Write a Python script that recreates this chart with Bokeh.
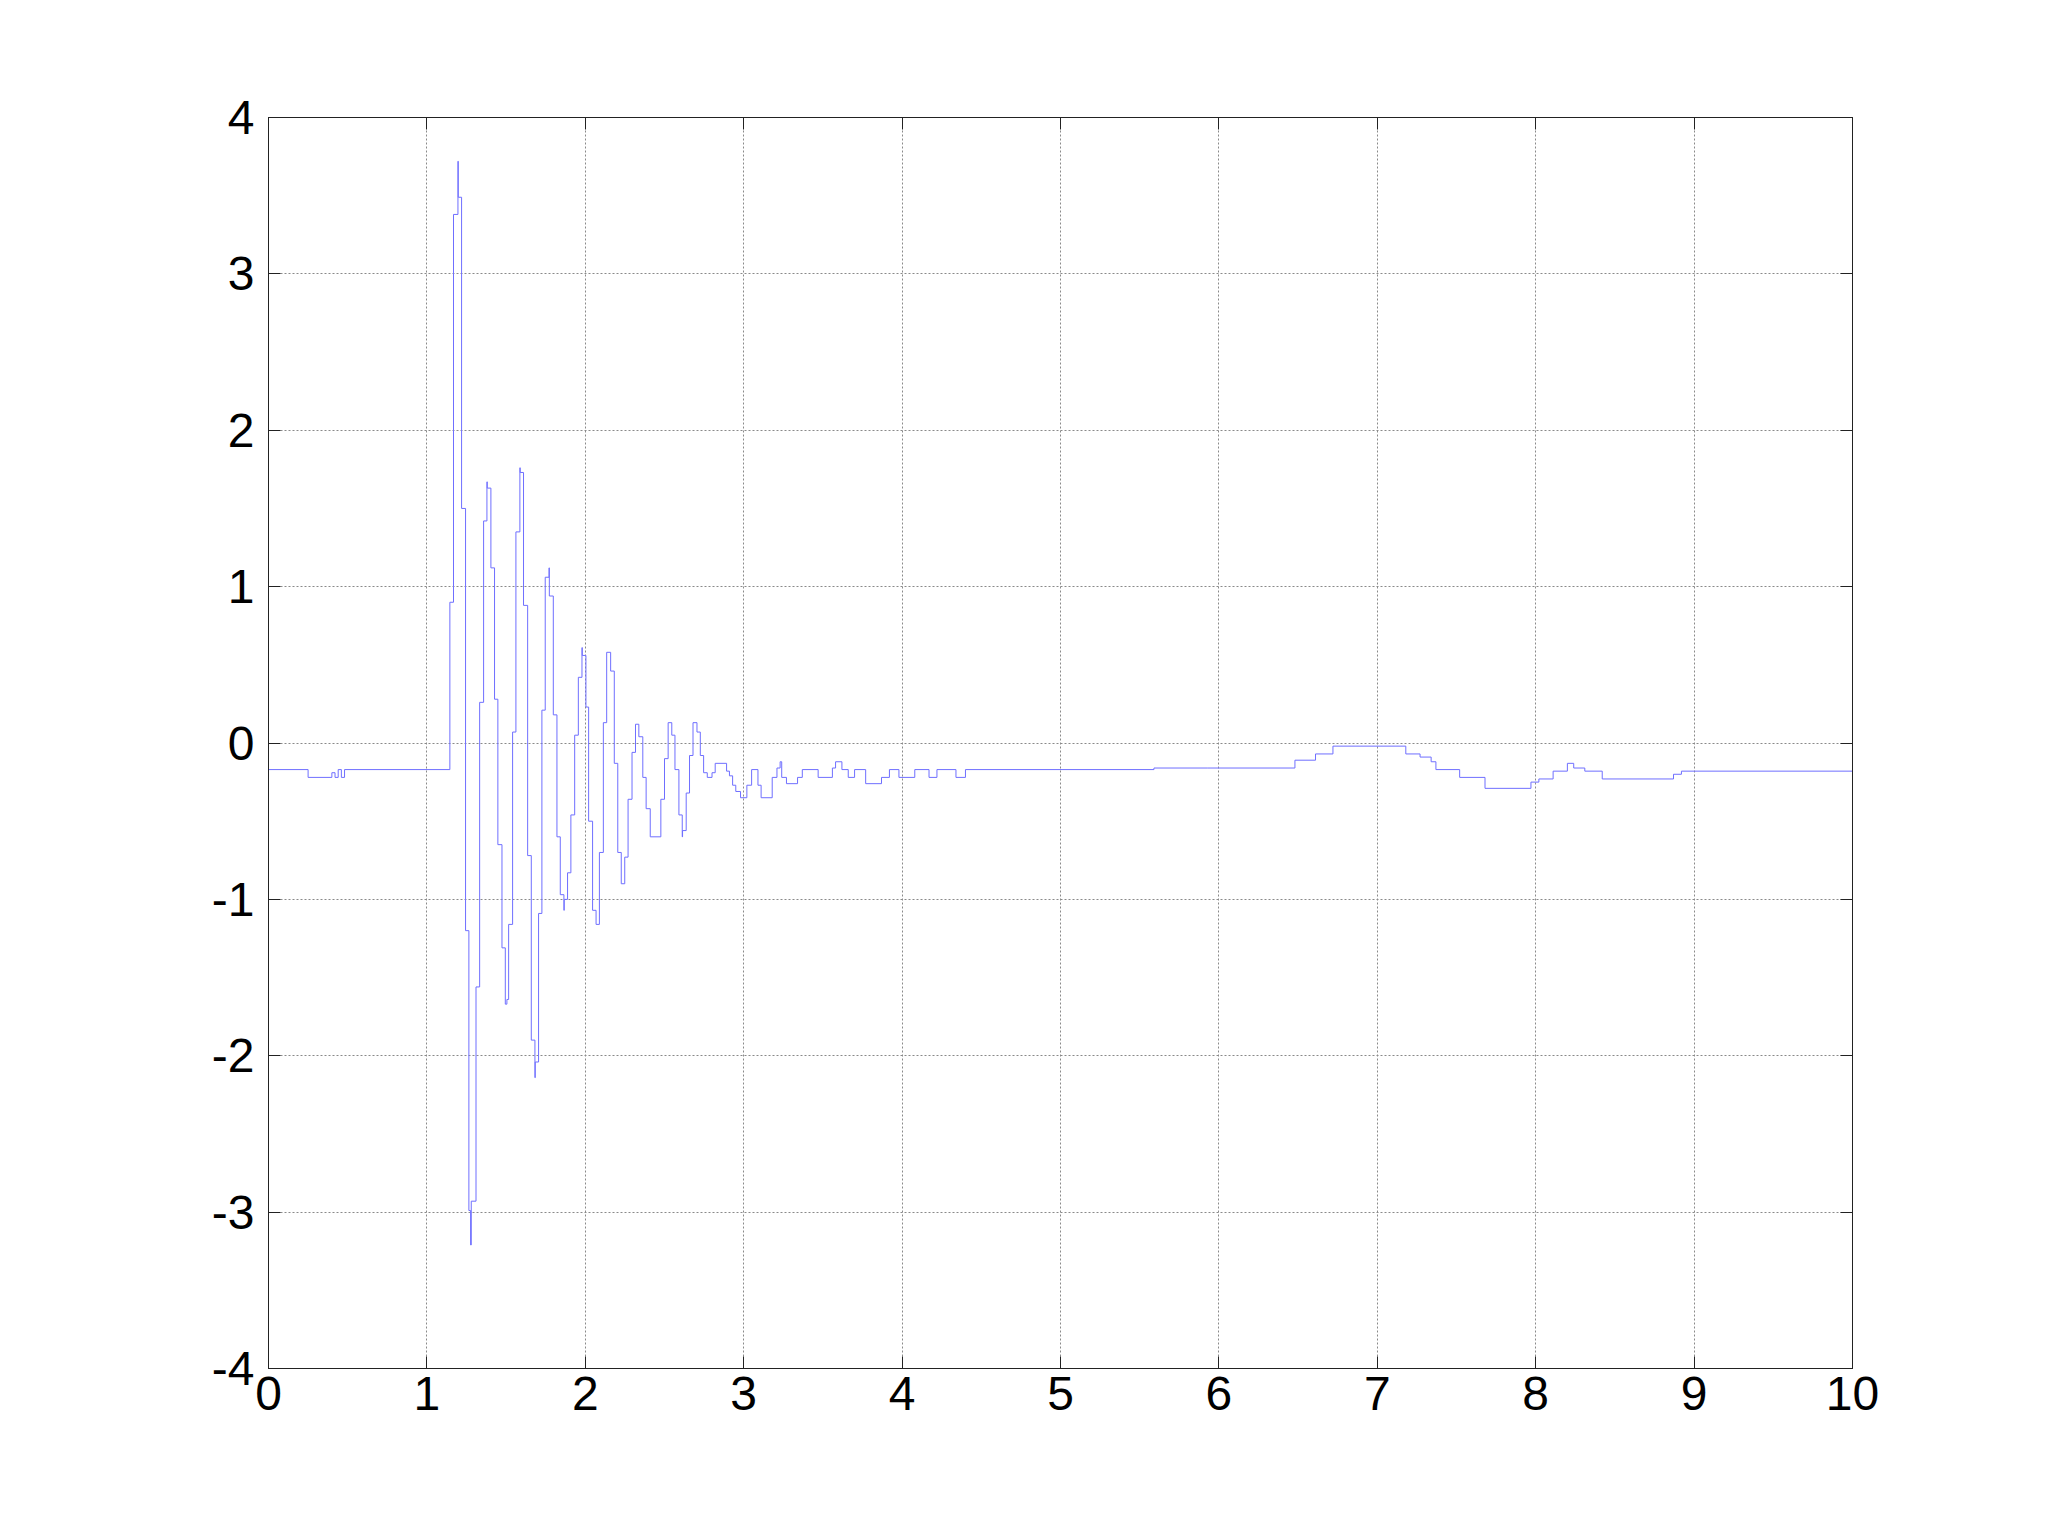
from bokeh.plotting import figure
from bokeh.models import FixedTicker, LinearAxis, Range1d
from bokeh.embed import file_html
from bokeh.resources import INLINE

# Breakpoints of the zero-order-hold signal: value V[i] holds from T[i] to T[i+1]
T = [0.0, 0.25, 0.40, 0.42, 0.44, 0.46, 0.48,
     1.145, 1.168, 1.196, 1.198, 1.219, 1.244, 1.265, 1.276, 1.280, 1.310, 1.333,
     1.358, 1.379, 1.381, 1.404, 1.427, 1.448, 1.474, 1.495, 1.505, 1.516, 1.541,
     1.562, 1.587, 1.589, 1.610, 1.636, 1.659, 1.682, 1.684, 1.705, 1.726, 1.747,
     1.771, 1.773, 1.798, 1.821, 1.842, 1.865, 1.867, 1.888, 1.909, 1.933, 1.956,
     1.979, 1.981, 2.004, 2.021, 2.046, 2.068, 2.089, 2.114, 2.135, 2.160, 2.183,
     2.205, 2.227, 2.249, 2.270, 2.295, 2.317, 2.338, 2.363, 2.384, 2.410, 2.477,
     2.500, 2.523, 2.546, 2.566, 2.591, 2.612, 2.614, 2.637, 2.658, 2.680, 2.705,
     2.726, 2.747, 2.770, 2.800, 2.820, 2.892, 2.910, 2.930, 2.950, 2.980, 3.020,
     3.050, 3.090, 3.110, 3.180, 3.210, 3.230, 3.240, 3.270, 3.340, 3.370, 3.470,
     3.560, 3.580, 3.620, 3.660, 3.700, 3.770, 3.870, 3.920, 3.980, 4.080, 4.170,
     4.220, 4.340, 4.400, 5.590, 5.930, 6.480, 6.610, 6.720, 7.180, 7.270, 7.340,
     7.370, 7.520, 7.680, 7.970, 8.020, 8.110, 8.200, 8.240, 8.310, 8.420, 8.870,
     8.920]
V = [-0.17, -0.22, -0.19, -0.22, -0.17, -0.22, -0.17,
     0.90, 3.38, 3.72, 3.49, 1.50, -1.20, -2.99, -3.21, -2.93, -1.56, 0.26,
     1.42, 1.67, 1.63, 1.12, 0.28, -0.65, -1.31, -1.67, -1.64, -1.16, 0.07,
     1.35, 1.76, 1.73, 0.88, -0.72, -1.90, -2.14, -2.04, -1.09, 0.21, 1.06,
     1.12, 0.94, 0.18, -0.60, -0.97, -1.07, -1.00, -0.83, -0.46, 0.05, 0.42,
     0.61, 0.56, 0.23, -0.50, -1.07, -1.16, -0.70, 0.13, 0.58, 0.46, -0.13,
     -0.70, -0.90, -0.73, -0.36, -0.06, 0.12, 0.04, -0.22, -0.42, -0.60, -0.36,
     -0.10, 0.13, 0.05, -0.17, -0.46, -0.60, -0.56, -0.32, -0.08, 0.13, 0.07,
     -0.08, -0.19, -0.22, -0.19, -0.13, -0.18, -0.21, -0.27, -0.31, -0.35, -0.27,
     -0.17, -0.27, -0.35, -0.22, -0.16, -0.12, -0.22, -0.26, -0.22, -0.17, -0.22,
     -0.16, -0.12, -0.17, -0.22, -0.17, -0.26, -0.22, -0.17, -0.22, -0.17, -0.22,
     -0.17, -0.22, -0.17, -0.16, -0.16, -0.11, -0.07, -0.02, -0.07, -0.09,
     -0.12, -0.17, -0.22, -0.29, -0.25, -0.23, -0.18, -0.13, -0.16, -0.18, -0.23,
     -0.20, -0.18]

X_TICKS = list(range(0, 11))
Y_TICKS = list(range(-4, 5))
X_LABELS = {t: str(t) for t in X_TICKS}
Y_LABELS = {t: str(t) for t in Y_TICKS}

FONT = "Liberation Sans"
FS = "48px"

p = figure(width=2032, height=1521, x_range=Range1d(0, 10), y_range=Range1d(-4, 4),
           output_backend="svg", toolbar_location=None,
           min_border_left=268, min_border_right=180, min_border_top=117,
           min_border_bottom=153, x_axis_location=None, y_axis_location=None)
p.background_fill_color = "white"
p.border_fill_color = "white"
p.outline_line_color = "#222222"
p.outline_line_width = 1


def style_axis(ax, labels, show):
    ax.ticker = FixedTicker(ticks=list(labels.keys()))
    ax.major_tick_in = 12
    ax.major_tick_out = 0
    ax.minor_tick_line_color = None
    ax.axis_line_color = "#222222"
    ax.major_tick_line_color = "#222222"
    ax.major_label_text_font = FONT
    ax.major_label_text_font_size = FS
    ax.major_label_text_color = "black"
    if show:
        ax.major_label_overrides = {k: v for k, v in labels.items()}
    else:
        ax.major_label_overrides = {k: "" for k in labels}
        ax.major_label_text_font_size = "1px"


xb = LinearAxis()
style_axis(xb, X_LABELS, True)
xb.major_label_standoff = 8
p.add_layout(xb, "below")

yl = LinearAxis()
style_axis(yl, Y_LABELS, True)
yl.major_label_standoff = 14
p.add_layout(yl, "left")

xa = LinearAxis()
style_axis(xa, X_LABELS, False)
p.add_layout(xa, "above")

yr = LinearAxis()
style_axis(yr, Y_LABELS, False)
p.add_layout(yr, "right")

p.xgrid.ticker = FixedTicker(ticks=X_TICKS)
p.ygrid.ticker = FixedTicker(ticks=Y_TICKS)
for g in (p.xgrid, p.ygrid):
    g.grid_line_color = "#8a8a8a"
    g.grid_line_dash = "2 2"
    g.grid_line_width = 1

xs = T + [10.0]
ys = V + [V[-1]]
p.step(xs, ys, mode="after", line_color="#6f6fff", line_width=1)

open("out.html", "w").write(file_html(p, INLINE))
